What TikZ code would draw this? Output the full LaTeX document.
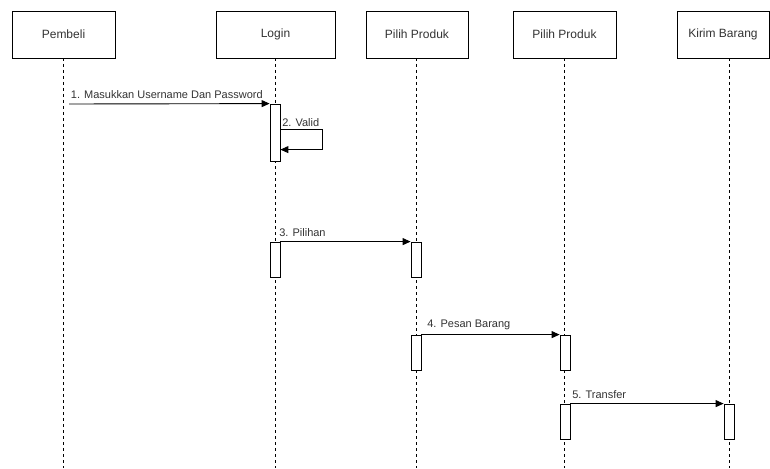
\documentclass[tikz,border=0pt]{standalone}
\usepackage{fontspec}
\setmainfont{Liberation Sans}
\usetikzlibrary{arrows.meta,positioning}
\definecolor{ink}{RGB}{51,51,51}

\begin{document}
\begin{tikzpicture}[x=1pt,y=-1pt,
    actor/.style={draw=black,line width=0.8pt,fill=white,
      minimum width=#1,minimum height=47pt,inner sep=0pt,
      font=\fontsize{12}{14}\selectfont,text=ink},
    lifeline/.style={draw=black,line width=0.7pt,dash pattern=on 3pt off 3pt},
    act/.style={draw=black,line width=0.8pt,fill=white,
      minimum width=10pt,minimum height=#1,inner sep=0pt},
    msg/.style={-{Triangle[length=8pt,width=7pt]},line width=0.9pt,draw=black},
    msglabel/.style={font=\fontsize{11}{13}\selectfont,text=ink,
      anchor=south west,inner xsep=1.5pt,inner ysep=4.5pt},
  ]

  \useasboundingbox[fill=white] (0,0) rectangle (770,468);
  \coordinate (bottom) at (0,468);

  % lifelines with their heads
  \foreach \id/\x/\lx/\w/\name in {pembeli/63.5/63/103/Pembeli,
                                   login/275.5/275/119/Login,
                                   produkA/417/416/102/{Pilih Produk},
                                   produkB/564.5/564/103/{Pilih Produk},
                                   kirim/723/729/92/{Kirim Barang}} {
    \coordinate (\id-top) at (\lx,58);
    \draw[lifeline] (\id-top) -- (\id-top |- bottom);
    \node[actor=\w pt] (\id) at (\x,34.5) {\name};
  }

  % activation bars
  \node[act=57pt] (akt1) at (275,132.5) {};
  \node[act=35pt] (akt2) at (275,259.5) {};
  \node[act=35pt] (akt3) at (416,259.5) {};
  \node[act=35pt] (akt4) at (416,352.5) {};
  \node[act=35pt] (akt5) at (565,352.5) {};
  \node[act=35pt] (akt6) at (565,421.5) {};
  \node[act=35pt] (akt7) at (729,421.5) {};

  % messages
  \coordinate (m1) at (69,104);
  \draw[msg] (m1) -- (akt1.north west)
    node[msglabel,pos=0] {1. Masukkan Username Dan Password};

  \draw[msg] ([yshift=-26pt]akt1.north east)
    node[msglabel,inner ysep=2.5pt] {2. Valid}
    -- ++(42,0) -- ++(0,20) -- ++(-42,0);

  \draw[msg] (akt2.north east) -- (akt3.north west)
    node[msglabel,pos=0,xshift=-3pt] {3. Pilihan};

  \draw[msg] (akt4.north east) -- (akt5.north west)
    node[msglabel,pos=0,xshift=4pt] {4. Pesan Barang};

  \draw[msg] (akt6.north east) -- (akt7.north west)
    node[msglabel,pos=0] {5. Transfer};

\end{tikzpicture}
\end{document}
